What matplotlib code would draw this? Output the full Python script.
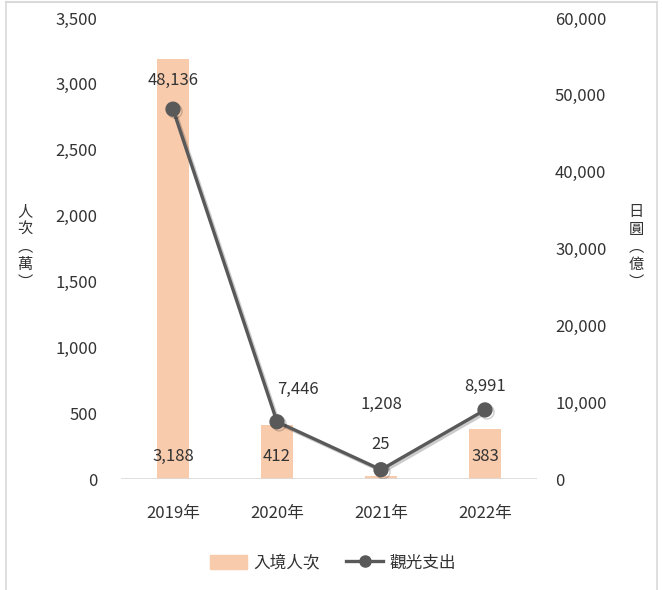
import matplotlib
matplotlib.use("Agg")
import matplotlib.pyplot as plt
import matplotlib.patheffects as pe
from matplotlib.patches import Rectangle
from matplotlib.lines import Line2D

plt.rcParams['font.family'] = ['Noto Sans CJK TC', 'DejaVu Sans']

categories = ['2019年', '2020年', '2021年', '2022年']
visitors = [3188, 412, 25, 383]          # 入境人次 (萬)
spending = [48136, 7446, 1208, 8991]     # 觀光支出 (億日圓)
left_ticks = [0, 500, 1000, 1500, 2000, 2500, 3000, 3500]
right_ticks = [0, 10000, 20000, 30000, 40000, 50000, 60000]

bar_color = '#F8CBAD'
line_color = '#595959'
text_color = '#333333'
fs = 12

W, H = 663, 590
fig = plt.figure(figsize=(W / 100, H / 100), dpi=100)
ax = fig.add_axes([121 / W, 1 - 479 / H, 416 / W, 461 / H])
ax2 = ax.twinx()

x = list(range(len(categories)))
ax.bar(x, visitors, width=0.31, color=bar_color, zorder=2)
ax.set_xlim(-0.5, 3.5)
ax.set_ylim(0, 3500)
ax.set_yticks(left_ticks)
ax.set_yticklabels([f'{v:,}' for v in left_ticks])
ax.set_xticks(x)
ax.set_xticklabels(categories)

ax2.plot(x, spending, color=line_color, lw=2.4, marker='o', markersize=10,
         zorder=3,
         path_effects=[pe.SimpleLineShadow(offset=(1.5, -1.5), alpha=0.2, shadow_color='black'),
                       pe.Normal()])
ax2.set_ylim(0, 60000)
ax2.set_yticks(right_ticks)
ax2.set_yticklabels([f'{v:,}' for v in right_ticks])

for a in (ax, ax2):
    for s in a.spines.values():
        s.set_visible(False)
    a.tick_params(length=0, labelsize=fs, colors=text_color)
ax.tick_params(axis='y', pad=17)
ax2.tick_params(axis='y', pad=13)
ax.tick_params(axis='x', pad=19)
ax.axhline(0, color='#D9D9D9', lw=1.2, zorder=4)

# bar labels
bar_off = [16, 16, 25, 16]
for i, v in enumerate(visitors):
    ax.annotate(f'{v:,}', (x[i], 0), xytext=(0, bar_off[i]), textcoords='offset points',
                ha='center', va='center', fontsize=fs, color=text_color, zorder=5)

# line labels
line_off = [(0, 21), (15, 23), (0, 47), (0, 17)]
for i, v in enumerate(spending):
    ax2.annotate(f'{v:,}', (x[i], v), xytext=line_off[i], textcoords='offset points',
                 ha='center', va='center', fontsize=fs, color=text_color, zorder=5)

# vertical axis titles
fig.text(25 / W, 1 - 247 / H, '\n'.join('人次︵萬︶'), ha='center', va='center',
         fontsize=11, color=text_color, linespacing=1.05)
fig.text(636 / W, 1 - 247 / H, '\n'.join('日圓︵億︶'), ha='center', va='center',
         fontsize=11, color=text_color, linespacing=1.05)

handles = [Rectangle((0, 0), 1, 1, color=bar_color),
           Line2D([], [], color=line_color, lw=2.4, marker='o', markersize=8)]
fig.legend(handles, ['入境人次', '觀光支出'], loc='center',
           bbox_to_anchor=(333 / W, 1 - 563 / H), ncol=2, frameon=False,
           fontsize=fs, labelcolor=text_color, handlelength=2.2, handleheight=0.9,
           columnspacing=1.6, handletextpad=0.4)

# frame lines (screenshot border)
border = '#D9D9D9'
fig.add_artist(Line2D([6 / W, 657 / W], [1 - 2 / H, 1 - 2 / H], color=border, lw=1.5))
fig.add_artist(Line2D([6 / W, 6 / W], [0, 1 - 2 / H], color=border, lw=1.2))
fig.add_artist(Line2D([657 / W, 657 / W], [0, 1 - 2 / H], color=border, lw=1.2))

fig.savefig('out.png', dpi=100)
